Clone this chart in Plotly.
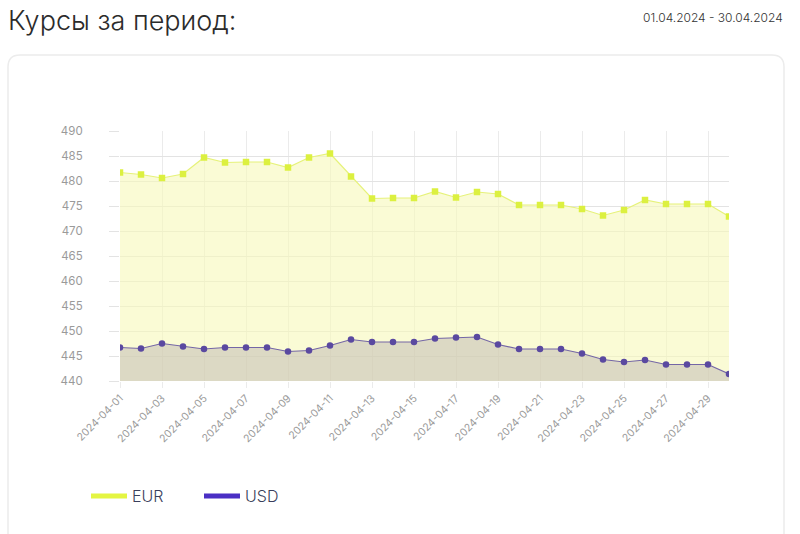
import plotly.graph_objects as go

dates = ["2024-04-%02d" % d for d in range(1, 31)]
eur = [481.7, 481.3, 480.6, 481.4, 484.7, 483.7, 483.8, 483.8, 482.7, 484.7,
       485.5, 480.9, 476.5, 476.6, 476.6, 477.9, 476.7, 477.8, 477.4, 475.2,
       475.2, 475.2, 474.4, 473.1, 474.2, 476.2, 475.4, 475.4, 475.4, 472.9]
usd = [446.7, 446.5, 447.5, 446.9, 446.4, 446.7, 446.7, 446.7, 445.9, 446.1,
       447.1, 448.3, 447.8, 447.8, 447.8, 448.5, 448.7, 448.8, 447.3, 446.4,
       446.4, 446.4, 445.5, 444.3, 443.8, 444.2, 443.3, 443.3, 443.3, 441.4]
y_ticks = [440, 445, 450, 455, 460, 465, 470, 475, 480, 485, 490]
title_text = "Курсы за период:"
period_text = "01.04.2024 - 30.04.2024"

FONT = "Inter"
L, R, T, B = 120, 71, 131, 153
PW, PH = 800 - L - R, 534 - T - B

def px(x):
    return (x - L) / PW

def py(y):
    return (534 - B - y) / PH

fig = go.Figure()
fig.add_trace(go.Scatter(
    x=dates, y=eur, mode="lines+markers", name="EUR", showlegend=False,
    line=dict(color="#e6f27a", width=1.2),
    marker=dict(color="#dcf040", size=6.5, symbol="square"),
    fill="tozeroy", fillcolor="rgba(246,248,185,0.6)",
))
fig.add_trace(go.Scatter(
    x=dates, y=usd, mode="lines+markers", name="USD", showlegend=False,
    line=dict(color="#7466a6", width=1.2),
    marker=dict(color="#5a49a0", size=6.5, symbol="circle"),
    fill="tozeroy", fillcolor="rgba(185,175,175,0.45)",
))
# legend entries
fig.add_trace(go.Scatter(x=[None], y=[None], mode="lines", name="EUR",
                         line=dict(color="#e4f542", width=5)))
fig.add_trace(go.Scatter(x=[None], y=[None], mode="lines", name="USD",
                         line=dict(color="#4a2fc4", width=5)))

# card with rounded corners
r = 12
x0, x1, y0, y1 = px(8), px(784), py(55), py(560)
rx, ry = r / PW, r / PH
path = (f"M {x0},{y1} L {x0},{y0 - ry} Q {x0},{y0} {x0 + rx},{y0} "
        f"L {x1 - rx},{y0} Q {x1},{y0} {x1},{y0 - ry} L {x1},{y1}")
fig.add_shape(type="path", path=path, xref="paper", yref="paper",
              line=dict(color="#ececec", width=1.5), layer="below")

fig.add_annotation(text=title_text, xref="paper", yref="paper",
                   x=px(6), y=py(20), xanchor="left", yanchor="middle",
                   showarrow=False,
                   font=dict(family=FONT, size=27, color="#2b2b2b", weight=300))
fig.add_annotation(text=period_text, xref="paper", yref="paper",
                   x=px(785), y=py(17), xanchor="right", yanchor="middle",
                   showarrow=False,
                   font=dict(family=FONT, size=12, color="#333333", weight=300))

fig.update_layout(
    width=800, height=534,
    margin=dict(l=L, r=R, t=T, b=B),
    paper_bgcolor="white", plot_bgcolor="white",
    font=dict(family=FONT, color="#999999"),
    showlegend=True,
    legend=dict(orientation="h", x=px(86), y=py(496), xanchor="left",
                yanchor="middle",
                font=dict(family=FONT, size=16, color="#3a3f5c", weight=300),
                entrywidth=62, entrywidthmode="pixels", itemwidth=36,
                bgcolor="rgba(0,0,0,0)"),
    xaxis=dict(type="date", range=[dates[0], dates[-1]],
               tick0=dates[0], dtick=2 * 86400000, tickformat="%Y-%m-%d",
               tickangle=-45, showgrid=True, gridcolor="#ebebeb", gridwidth=1,
               ticks="outside", ticklen=6, tickcolor="#ebebeb",
               tickfont=dict(size=10.5, color="#9a9a9a"),
               showline=False, zeroline=False),
    yaxis=dict(range=[440, 490], tickvals=y_ticks, showgrid=True,
               gridcolor="#e3e3e3", gridwidth=1, ticks="outside", ticklen=10,
               tickcolor="#e3e3e3", ticklabelstandoff=24,
               tickfont=dict(size=11.5, color="#9a9a9a"),
               showline=False, zeroline=False),
)

fig.write_html("out.html")
